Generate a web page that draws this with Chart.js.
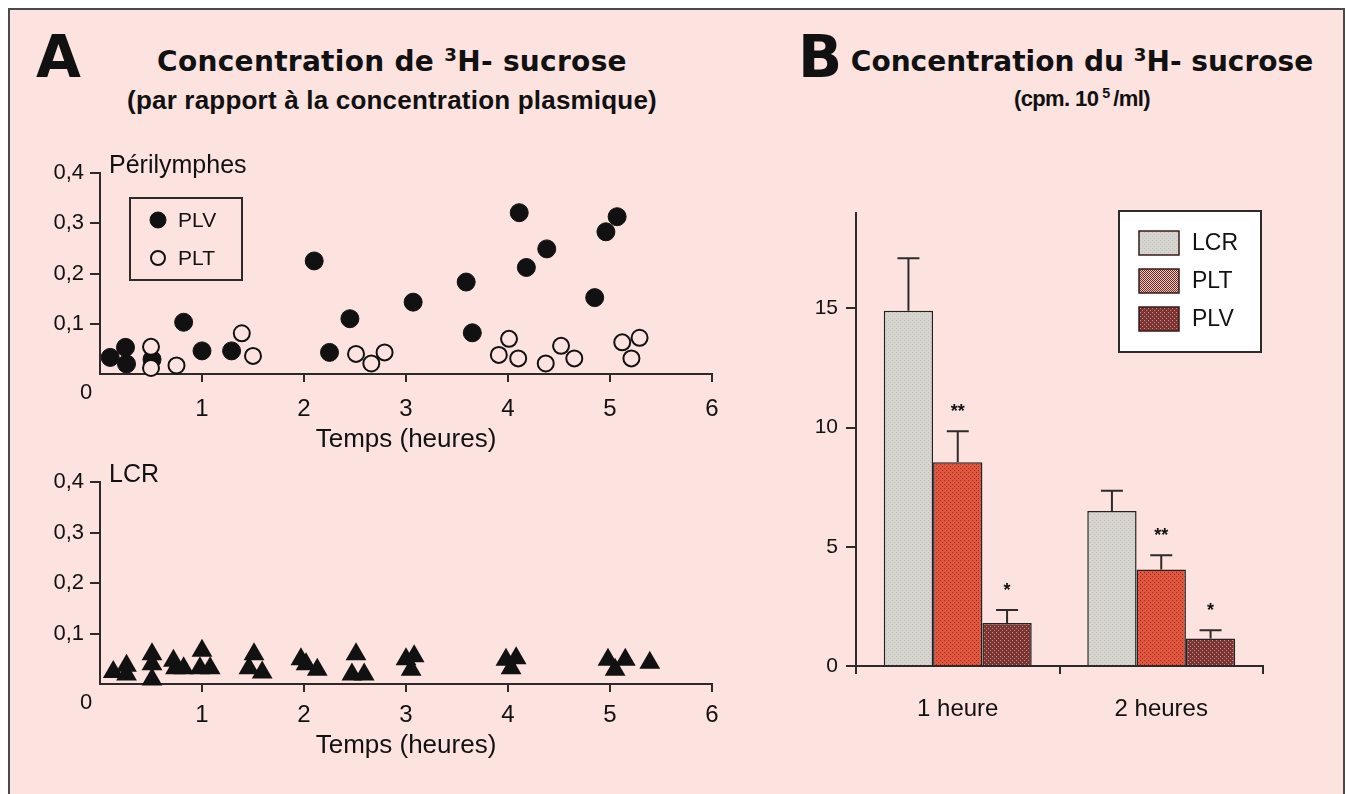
<!DOCTYPE html>
<html>
<head>
<meta charset="utf-8">
<script src="https://cdn.jsdelivr.net/npm/chart.js@4.4.1/dist/chart.umd.min.js"></script>
<style>
  body { margin: 0; width: 1346px; height: 794px; overflow: hidden; position: relative; background: #fff; font-family: "Liberation Sans", Arial, sans-serif; color: #111; }
  #frame { position: absolute; left: 8px; top: 8px; width: 1333px; height: 800px; border: 2px solid #4a4a4a; background: #fde3df; }
  canvas { position: absolute; }
  .big { position: absolute; font-family: "DejaVu Sans", sans-serif; font-weight: bold; font-size: 58px; line-height: 1; }
  .t1 { position: absolute; font-family: "DejaVu Sans", sans-serif; font-weight: bold; font-size: 28px; line-height: 1; text-align: center; white-space: nowrap; }
  .t2 { position: absolute; font-family: "Liberation Sans", Arial, sans-serif; font-weight: bold; font-size: 26px; line-height: 1; text-align: center; white-space: nowrap; }
  .t1 sup, .t2 sup { font-size: 65%; vertical-align: 0.55em; line-height: 0; }
</style>
</head>
<body>
<div id="frame"></div>

<div class="big" style="left:36px; top:28px;">A</div>
<div class="t1" style="left:92px; top:48px; width:600px; letter-spacing:0.3px;">Concentration de <sup>3</sup>H- sucrose</div>
<div class="t2" style="left:92px; top:87px; width:600px; letter-spacing:0.2px;">(par rapport à la concentration plasmique)</div>

<div class="big" style="left:798px; top:28px;">B</div>
<div class="t1" style="left:832px; top:48px; width:500px;">Concentration du <sup>3</sup>H- sucrose</div>
<div class="t2" style="left:832px; top:88px; width:500px; font-size:22px; letter-spacing:-0.6px;">(cpm. 10&thinsp;<sup>5</sup>&thinsp;/ml)</div>

<canvas id="peri" width="740" height="330" style="left:0; top:130px;"></canvas>
<canvas id="lcr" width="740" height="310" style="left:0; top:460px;"></canvas>
<canvas id="bars" width="560" height="560" style="left:760px; top:180px;"></canvas>

<script>
// --- panneau A : concentration relative (temps en heures) ---
var plvTime = [0.10, 0.25, 0.26, 0.51, 0.82, 1.00, 1.29, 2.10, 2.25, 2.45, 3.07, 3.59, 3.65, 4.11, 4.18, 4.38, 4.85, 4.96, 5.07];
var plvConc = [0.033, 0.053, 0.020, 0.029, 0.103, 0.046, 0.046, 0.225, 0.043, 0.110, 0.143, 0.183, 0.082, 0.321, 0.212, 0.249, 0.152, 0.283, 0.313];

var pltTime = [0.50, 0.50, 0.75, 1.39, 1.50, 2.51, 2.66, 2.79, 3.91, 4.01, 4.10, 4.37, 4.52, 4.65, 5.12, 5.21, 5.29];
var pltConc = [0.054, 0.012, 0.017, 0.081, 0.036, 0.040, 0.021, 0.043, 0.038, 0.070, 0.031, 0.021, 0.056, 0.031, 0.063, 0.031, 0.072];

var lcrTime = [0.13, 0.26, 0.26, 0.51, 0.51, 0.51, 0.72, 0.74, 0.82, 1.00, 0.98, 1.08, 1.51, 1.46, 1.59, 1.97, 2.02, 2.13, 2.51, 2.47, 2.59, 3.00, 3.08, 3.05, 3.98, 4.08, 4.03, 4.98, 5.15, 5.05, 5.39];
var lcrConc = [0.024, 0.036, 0.019, 0.059, 0.039, 0.009, 0.046, 0.031, 0.031, 0.066, 0.031, 0.031, 0.059, 0.031, 0.023, 0.049, 0.039, 0.028, 0.059, 0.019, 0.019, 0.049, 0.055, 0.028, 0.048, 0.051, 0.031, 0.048, 0.048, 0.028, 0.042];

var timeTicks = [1, 2, 3, 4, 5, 6];
var concTicks = [0.1, 0.2, 0.3, 0.4];

// --- panneau B : cpm.10^5/ml ---
var barCategories = ['1 heure', '2 heures'];
var barLCR = [14.9, 6.5];
var barPLT = [8.55, 4.05];
var barPLV = [1.8, 1.15];
var errLCR = [2.2, 0.85];
var errPLT = [1.3, 0.6];
var errPLV = [0.55, 0.35];
var signifMarks = ['', '**', '*'];
var barTicks = [0, 5, 10, 15];

var FONT = '"Liberation Sans", Arial, sans-serif';
var ink = '#111';
var axisColor = '#2e2a2a';
var panelBg = '#fde3df';

function toPoints(xs, ys) {
    return xs.map(function(x, i) { return { x: x, y: ys[i] }; });
}

function makePattern(base, dot, size) {
    var c = document.createElement('canvas');
    c.width = size; c.height = size;
    var g = c.getContext('2d');
    g.fillStyle = base;
    g.fillRect(0, 0, size, size);
    g.fillStyle = dot;
    g.fillRect(0, 0, 1, 1);
    g.fillRect(size / 2, size / 2, 1, 1);
    return g.createPattern(c, 'repeat');
}

var fillLCR = makePattern('#d5d4cf', '#c3c2bd', 4);
var fillPLT = makePattern('#e2553f', '#8e2c22', 4);
var fillPLV = makePattern('#7a3431', '#c98b84', 4);
var legPLT = makePattern('#e9cfca', '#6e231c', 2);

// textes dans le graphe : nom du panneau, "0" du coin, petite legende
var panelText = {
    id: 'panelText',
    afterDraw: function(chart, args, opts) {
        var ctx = chart.ctx, ca = chart.chartArea;
        ctx.save();
        ctx.fillStyle = ink;
        ctx.font = '25px ' + FONT;
        ctx.textAlign = 'left';
        ctx.textBaseline = 'alphabetic';
        ctx.fillText(opts.label, ca.left + 9, ca.top);

        ctx.font = '22px ' + FONT;
        ctx.textAlign = 'center';
        ctx.textBaseline = 'middle';
        ctx.fillText('0', ca.left - 14, ca.bottom + 19);

        if (opts.legend) {
            var bx = ca.left + 30, by = ca.top + 25;
            ctx.strokeStyle = axisColor;
            ctx.lineWidth = 2;
            ctx.strokeRect(bx, by, 112, 82);
            ctx.font = '21px ' + FONT;
            ctx.textAlign = 'left';
            chart.data.datasets.forEach(function(ds, i) {
                var cy = by + 22 + i * 38;
                ctx.beginPath();
                ctx.arc(bx + 28, cy, ds.pointRadius - 1, 0, Math.PI * 2);
                ctx.fillStyle = ds.pointBackgroundColor;
                ctx.fill();
                ctx.lineWidth = ds.pointBorderWidth;
                ctx.strokeStyle = ds.pointBorderColor;
                ctx.stroke();
                ctx.fillStyle = ink;
                ctx.fillText(ds.label, bx + 48, cy + 1);
            });
        }
        ctx.restore();
    }
};

function scatterChart(id, datasets, opts) {
    return new Chart(document.getElementById(id), {
        type: 'scatter',
        data: { datasets: datasets },
        options: {
            responsive: false,
            animation: false,
            devicePixelRatio: 1,
            layout: { padding: { left: 0, right: 28, top: opts.top, bottom: 0 } },
            plugins: {
                legend: { display: false },
                tooltip: { enabled: false },
                panelText: { label: opts.label, legend: opts.legend }
            },
            scales: {
                x: {
                    type: 'linear', min: 0, max: 6,
                    afterBuildTicks: function(s) { s.ticks = timeTicks.map(function(v) { return { value: v }; }); },
                    afterFit: function(s) { s.height = opts.axisH; },
                    grid: { drawOnChartArea: false, color: axisColor, lineWidth: 2, tickLength: 8 },
                    border: { color: axisColor, width: 2 },
                    ticks: { color: ink, font: { size: 24, family: FONT }, padding: opts.tickPad, maxRotation: 0 },
                    title: { display: true, text: 'Temps (heures)', color: ink, font: { size: 26, family: FONT }, padding: { top: 0, bottom: opts.titlePad } }
                },
                y: {
                    min: 0, max: 0.4,
                    afterBuildTicks: function(s) { s.ticks = concTicks.map(function(v) { return { value: v }; }); },
                    afterFit: function(s) { s.width = 100; },
                    grid: { drawOnChartArea: false, color: axisColor, lineWidth: 2, tickLength: 10 },
                    border: { color: axisColor, width: 2 },
                    ticks: {
                        color: ink, font: { size: 22, family: FONT }, padding: 6,
                        callback: function(v) { return v.toFixed(1).replace('.', ','); }
                    }
                }
            }
        },
        plugins: [panelText]
    });
}

scatterChart('peri', [
    {
        label: 'PLV', data: toPoints(plvTime, plvConc), clip: false, order: 2,
        pointRadius: 9, pointBackgroundColor: ink, pointBorderColor: ink, pointBorderWidth: 1
    },
    {
        label: 'PLT', data: toPoints(pltTime, pltConc), clip: false, order: 1,
        pointRadius: 8, pointBackgroundColor: panelBg, pointBorderColor: ink, pointBorderWidth: 2
    }
], { top: 43, axisH: 86, tickPad: 13, titlePad: 5, label: 'Périlymphes', legend: true });

scatterChart('lcr', [
    {
        label: 'LCR', data: toPoints(lcrTime, lcrConc), clip: false,
        pointStyle: 'triangle', pointRadius: 12, pointBackgroundColor: ink, pointBorderColor: ink, pointBorderWidth: 0
    }
], { top: 22, axisH: 86, tickPad: 9, titlePad: 9, label: 'LCR', legend: false });

// barres d'erreur, asteriques et legende encadree du panneau B
var barExtras = {
    id: 'barExtras',
    afterDatasetsDraw: function(chart) {
        var ctx = chart.ctx, y = chart.scales.y;
        ctx.save();
        ctx.strokeStyle = axisColor;
        ctx.lineWidth = 2;
        chart.data.datasets.forEach(function(ds, i) {
            chart.getDatasetMeta(i).data.forEach(function(bar, j) {
                var top = y.getPixelForValue(ds.data[j] + ds.errors[j]);
                ctx.beginPath();
                ctx.moveTo(bar.x, bar.y);
                ctx.lineTo(bar.x, top);
                ctx.moveTo(bar.x - 11, top);
                ctx.lineTo(bar.x + 11, top);
                ctx.stroke();
                if (signifMarks[i]) {
                    ctx.fillStyle = ink;
                    ctx.font = 'bold 18px ' + FONT;
                    ctx.textAlign = 'center';
                    ctx.textBaseline = 'middle';
                    ctx.fillText(signifMarks[i], bar.x, top - 19);
                }
            });
        });
        ctx.restore();
    },
    afterDraw: function(chart) {
        var ctx = chart.ctx;
        var bx = 359, by = 31;
        ctx.save();
        ctx.fillStyle = '#fff';
        ctx.fillRect(bx, by, 142, 141);
        ctx.strokeStyle = axisColor;
        ctx.lineWidth = 2;
        ctx.strokeRect(bx, by, 142, 141);
        ctx.font = '23px ' + FONT;
        ctx.textAlign = 'left';
        ctx.textBaseline = 'middle';
        chart.data.datasets.forEach(function(ds, i) {
            var cy = by + 32 + i * 38;
            ctx.fillStyle = ds.legendFill;
            ctx.fillRect(bx + 20, cy - 12, 40, 24);
            ctx.lineWidth = 1.5;
            ctx.strokeStyle = '#3a1a18';
            ctx.strokeRect(bx + 20, cy - 12, 40, 24);
            ctx.fillStyle = ink;
            ctx.fillText(ds.label, bx + 73, cy + 1);
        });
        ctx.restore();
    }
};

new Chart(document.getElementById('bars'), {
    type: 'bar',
    data: {
        labels: barCategories,
        datasets: [
            { label: 'LCR', data: barLCR, errors: errLCR, backgroundColor: fillLCR, legendFill: fillLCR, borderColor: '#222', borderWidth: 1.5 },
            { label: 'PLT', data: barPLT, errors: errPLT, backgroundColor: fillPLT, legendFill: legPLT, borderColor: '#222', borderWidth: 1.5 },
            { label: 'PLV', data: barPLV, errors: errPLV, backgroundColor: fillPLV, legendFill: fillPLV, borderColor: '#222', borderWidth: 1.5 }
        ]
    },
    options: {
        responsive: false,
        animation: false,
        devicePixelRatio: 1,
        categoryPercentage: 0.727,
        barPercentage: 1.0,
        layout: { padding: { left: 0, right: 57, top: 33, bottom: 0 } },
        plugins: { legend: { display: false }, tooltip: { enabled: false } },
        scales: {
            x: {
                afterFit: function(s) { s.height = 74; },
                grid: { drawOnChartArea: false, color: axisColor, lineWidth: 2, tickLength: 8 },
                border: { color: axisColor, width: 2 },
                ticks: { color: ink, font: { size: 24, family: FONT }, padding: 21 }
            },
            y: {
                min: 0, max: 19,
                afterBuildTicks: function(s) { s.ticks = barTicks.map(function(v) { return { value: v }; }); },
                afterFit: function(s) { s.width = 96; },
                grid: { drawOnChartArea: false, color: axisColor, lineWidth: 2, tickLength: 10 },
                border: { color: axisColor, width: 2 },
                ticks: { color: ink, font: { size: 21, family: FONT }, padding: 8 }
            }
        }
    },
    plugins: [barExtras]
});
</script>
</body>
</html>
